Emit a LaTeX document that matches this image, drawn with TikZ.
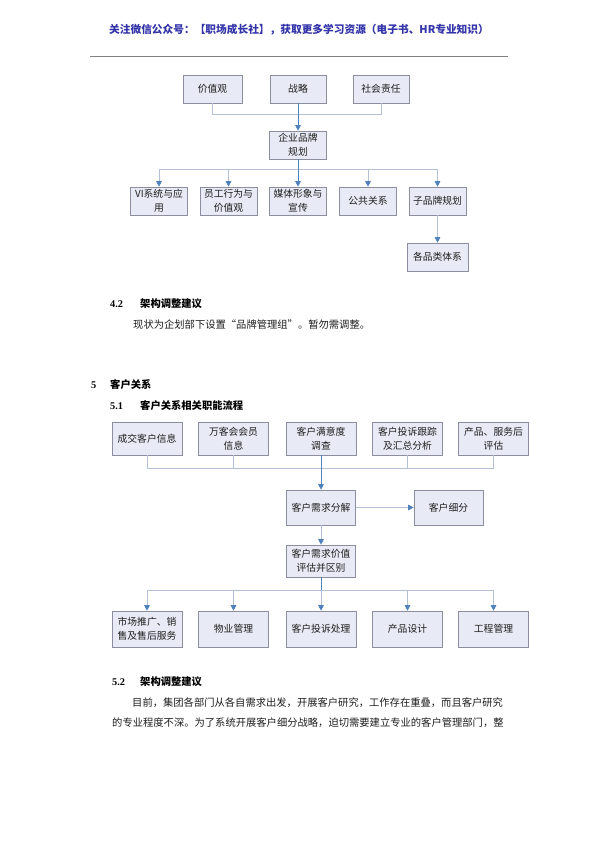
\documentclass[tikz,border=0pt]{standalone}
\usepackage{fontspec}
\setmainfont{Liberation Serif}
\newfontfamily\cjk{Noto Sans CJK SC}
\usetikzlibrary{arrows.meta}
\definecolor{boxfill}{RGB}{232,234,245}
\definecolor{boxline}{RGB}{140,142,160}
\definecolor{lightline}{RGB}{180,192,214}
\definecolor{trunkline}{RGB}{79,129,189}
\definecolor{headblue}{RGB}{52,52,170}
\definecolor{textgray}{RGB}{30,30,30}
\tikzset{
  box/.style={draw=boxline, fill=boxfill, line width=0.6pt, align=center, inner sep=1pt,
    font=\cjk\fontsize{9.8}{14}\selectfont, text=textgray},
  tip/.style={-{Triangle[width=5.5pt,length=5.5pt,color=trunkline]}},
  light/.style={draw=lightline, line width=0.7pt},
  trunk/.style={draw=trunkline, line width=0.8pt},
  bodytext/.style={anchor=west, inner sep=0pt, font=\cjk\fontsize{10.3}{12}\selectfont, text=textgray},
  headtext/.style={anchor=west, inner sep=0pt, font=\cjk\bfseries\fontsize{10.3}{12}\selectfont, text=black},
  numtext/.style={anchor=west, inner sep=0pt, font=\bfseries\fontsize{10.3}{12}\selectfont, text=black}
}
\begin{document}
\begin{tikzpicture}[x=1pt,y=-1pt]
\useasboundingbox[fill=white] (0,0) rectangle (596,842);

% header
\node[inner sep=0pt, font=\cjk\bfseries\fontsize{10.7}{12}\selectfont, text=headblue] (hdr) at (299,30)
  {关注微信公众号：【职场成长社】，获取更多学习资源（电子书、HR专业知识）};
\coordinate (hl) at (90,56);
\coordinate (hr) at (508,56);
\draw[draw=gray, line width=0.8pt] (hl) -- (hr);

% ===== brand diagram =====
\node[box, minimum width=59pt, minimum height=28pt] (v1) at (212.5,89) {价值观};
\node[box, minimum width=56pt, minimum height=28pt] (v2) at (298,89) {战略};
\node[box, minimum width=56pt, minimum height=28pt] (v3) at (381,89) {社会责任};
\node[box, minimum width=57pt, minimum height=28pt] (brand) at (298,145) {企业品牌\\规划};

\coordinate (hub1) at (298,114);
\draw[light] (v1.south) |- (hub1);
\draw[light] (v3.south) |- (hub1);
\draw[trunk, tip] (v2.south) -- (brand.north);

\node[box, minimum width=57pt, minimum height=28pt] (b1) at (159,201) {VI系统与应\\用};
\node[box, minimum width=57pt, minimum height=28pt] (b2) at (228.5,201) {员工行为与\\价值观};
\node[box, minimum width=57pt, minimum height=28pt] (b3) at (298,201) {媒体形象与\\宣传};
\node[box, minimum width=57pt, minimum height=28pt] (b4) at (368,201) {公共关系};
\node[box, minimum width=57pt, minimum height=28pt] (b5) at (437.5,201) {子品牌规划};
\node[box, minimum width=61pt, minimum height=28pt] (sub) at (437.5,257) {各品类体系};

\coordinate (hub2) at (298,169);
\draw[trunk] (brand.south) -- (hub2);
\foreach \b in {b1,b2,b4,b5} { \draw[light, tip] (hub2) -| (\b.north); }
\draw[trunk, tip] (hub2) -- (b3.north);
\draw[light, tip] (b5.south) -- (sub.north);

% ===== text 4.2 / 5 / 5.1 =====
\node[numtext] (n42) at (110,304) {4.2};
\node[headtext] (t42) at (140,304) {架构调整建议};
\node[bodytext] (p42) at (133,325) {现状为企划部下设置“品牌管理组”。暂勿需调整。};
\node[numtext] (n5) at (91,385) {5};
\node[headtext] (t5) at (110,385) {客户关系};
\node[numtext] (n51) at (110,406) {5.1};
\node[headtext] (t51) at (140,406) {客户关系相关职能流程};

% ===== customer diagram =====
\node[box, minimum width=70pt, minimum height=33pt] (c1) at (147,438.5) {成交客户信息};
\node[box, minimum width=70pt, minimum height=33pt] (c2) at (233.5,438.5) {万客会会员\\信息};
\node[box, minimum width=70pt, minimum height=33pt] (c3) at (321,438.5) {客户满意度\\调查};
\node[box, minimum width=70pt, minimum height=33pt] (c4) at (407.5,438.5) {客户投诉跟踪\\及汇总分析};
\node[box, minimum width=70pt, minimum height=33pt] (c5) at (493.5,438.5) {产品、服务后\\评估};

\node[box, minimum width=69pt, minimum height=35pt] (need) at (321,507.5) {客户需求分解};
\node[box, minimum width=69pt, minimum height=35pt] (seg) at (448.5,507.5) {客户细分};
\node[box, minimum width=69pt, minimum height=32pt] (val) at (321,561) {客户需求价值\\评估并区别};

\coordinate (hub3) at (321,468.5);
\foreach \c in {c1,c2,c4,c5} { \draw[light] (\c.south) |- (hub3); }
\draw[trunk, tip] (c3.south) -- (need.north);
\draw[light, tip] (need.east) -- (seg.west);
\draw[light, tip] (need.south) -- (val.north);

\node[box, minimum width=70pt, minimum height=36pt] (d1) at (147,629) {市场推广、销\\售及售后服务};
\node[box, minimum width=70pt, minimum height=36pt] (d2) at (233.5,629) {物业管理};
\node[box, minimum width=70pt, minimum height=36pt] (d3) at (321,629) {客户投诉处理};
\node[box, minimum width=70pt, minimum height=36pt] (d4) at (407.5,629) {产品设计};
\node[box, minimum width=70pt, minimum height=36pt] (d5) at (493.5,629) {工程管理};

\coordinate (hub4) at (321,590);
\draw[trunk] (val.south) -- (hub4);
\foreach \d in {d1,d2,d4,d5} { \draw[light, tip] (hub4) -| (\d.north); }
\draw[light, tip] (hub4) -- (d3.north);

% ===== text 5.2 =====
\node[numtext] (n52) at (112,682) {5.2};
\node[headtext] (t52) at (140,682) {架构调整建议};
\node[bodytext] (p1) at (132,703) {目前，集团各部门从各自需求出发，开展客户研究，工作存在重叠，而且客户研究};
\node[bodytext] (p2) at (112,723) {的专业程度不深。为了系统开展客户细分战略，迫切需要建立专业的客户管理部门，整};
\end{tikzpicture}
\end{document}
